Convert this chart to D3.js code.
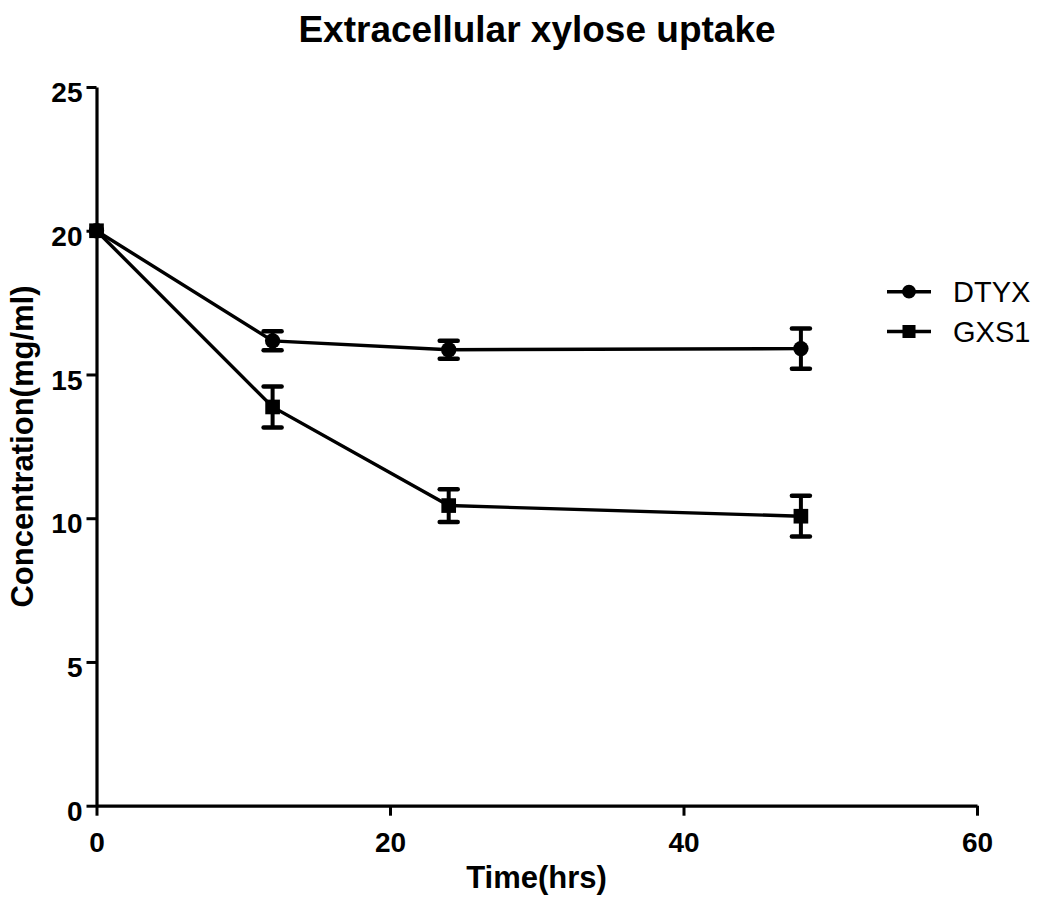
<!DOCTYPE html>
<html><head><meta charset="utf-8">
<script src="https://cdn.jsdelivr.net/npm/d3@7"></script>
<style>
body{margin:0;background:#fff;}
svg{display:block;}
text{font-family:"Liberation Sans",Arial,Helvetica,sans-serif;fill:#000;}
</style>
</head><body><svg id="chart" width="1040" height="899"></svg>
<script>
const times = [0, 12, 24, 48];
const dtyxMean = [20.0, 16.17, 15.86, 15.90];
const dtyxErr = [0, 0.33, 0.31, 0.70];
const gxs1Mean = [20.0, 13.87, 10.44, 10.07];
const gxs1Err = [0, 0.71, 0.57, 0.71];
const seriesNames = ["DTYX", "GXS1"];
const xTicks = [0, 20, 40, 60];
const yTicks = [0, 5, 10, 15, 20, 25];
const titleText = "Extracellular xylose uptake";
const xLabelText = "Time(hrs)";
const yLabelText = "Concentration(mg/ml)";

const svg = d3.select("#chart");
const x = d3.scaleLinear().domain([0, 60]).range([96.5, 977]);
const y = d3.scaleLinear().domain([0, 25]).range([805.7, 87]);

const series = [
  {name: seriesNames[0], symbol: d3.symbolCircle, size: 185, legendSize: 150, data: times.map((t,i)=>({t, v: dtyxMean[i], e: dtyxErr[i]}))},
  {name: seriesNames[1], symbol: d3.symbolSquare, size: 215, legendSize: 170, data: times.map((t,i)=>({t, v: gxs1Mean[i], e: gxs1Err[i]}))}
];

// Axes
const xAxis = svg.append("g").attr("transform", `translate(0,${y(0)})`)
  .call(d3.axisBottom(x).tickValues(xTicks).tickSize(10).tickSizeOuter(0).tickPadding(16).tickFormat(d3.format("d")));
const yAxis = svg.append("g").attr("transform", `translate(${x(0)},0)`)
  .call(d3.axisLeft(y).tickValues(yTicks).tickSize(10).tickSizeOuter(0).tickPadding(4).tickFormat(d3.format("d")));
[xAxis, yAxis].forEach(g => {
  g.select(".domain").attr("stroke", "#000").attr("stroke-width", 3.2);
  g.selectAll(".tick line").attr("stroke", "#000").attr("stroke-width", 3);
  g.selectAll(".tick text").attr("fill", "#000").style("font-family", '"Liberation Sans",Arial,sans-serif')
    .style("font-weight", "bold").style("font-size", "28px");
});
yAxis.selectAll(".tick text").attr("dy", "0.52em");
xAxis.selectAll(".tick text").attr("dy", "0.71em");

// Lines
const line = d3.line().x(d => x(d.t)).y(d => y(d.v));
series.forEach(s => {
  svg.append("path").datum(s.data).attr("d", line)
    .attr("fill", "none").attr("stroke", "#000").attr("stroke-width", 3.4);
});

// Error bars + markers
series.forEach(s => {
  const g = svg.append("g");
  s.data.filter(d => d.e > 0).forEach(d => {
    const cx = x(d.t);
    g.append("line").attr("x1", cx).attr("x2", cx).attr("y1", y(d.v + d.e)).attr("y2", y(d.v - d.e))
      .attr("stroke", "#000").attr("stroke-width", 4);
    [d.v + d.e, d.v - d.e].forEach(val => {
      g.append("line").attr("x1", cx - 9).attr("x2", cx + 9).attr("y1", y(val)).attr("y2", y(val))
        .attr("stroke", "#000").attr("stroke-width", 4.5).attr("stroke-linecap", "round");
    });
  });
  g.selectAll("path.mk").data(s.data).enter().append("path")
    .attr("transform", d => `translate(${x(d.t)},${y(d.v)})`)
    .attr("d", d3.symbol().type(s.symbol).size(s.size))
    .attr("fill", "#000");
});

// Legend
const legendY = [291.7, 331.5];
series.forEach((s, i) => {
  const g = svg.append("g").attr("transform", `translate(0,${legendY[i]})`);
  g.append("line").attr("x1", 887).attr("x2", 931).attr("y1", 0).attr("y2", 0)
    .attr("stroke", "#000").attr("stroke-width", 3.4);
  g.append("path").attr("transform", "translate(909,0)")
    .attr("d", d3.symbol().type(s.symbol).size(s.legendSize)).attr("fill", "#000");
  g.append("text").attr("x", 953).attr("y", 10.5).style("font-size", "29px").text(s.name);
});

// Title and axis labels
svg.append("text").attr("x", 537).attr("y", 42).attr("text-anchor", "middle")
  .style("font-size", "37px").style("font-weight", "bold").text(titleText);
svg.append("text").attr("x", 536.5).attr("y", 888).attr("text-anchor", "middle")
  .style("font-size", "31px").style("font-weight", "bold").text(xLabelText);
svg.append("text").attr("transform", "translate(33,446.5) rotate(-90)").attr("text-anchor", "middle")
  .style("font-size", "31px").style("font-weight", "bold").text(yLabelText);
</script>
</body></html>
